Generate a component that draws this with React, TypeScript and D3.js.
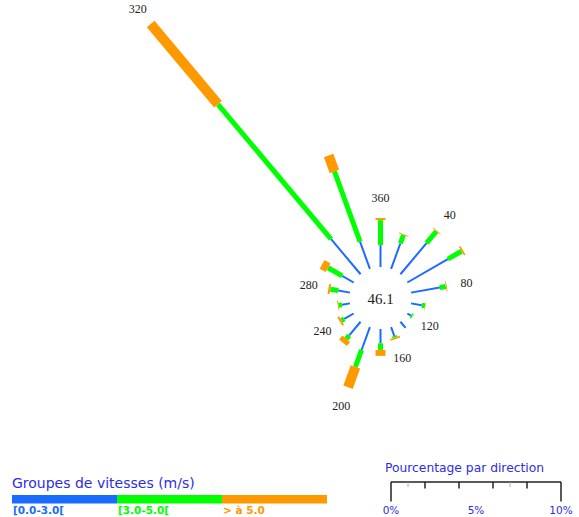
import React from "react";
import * as d3 from "d3";

const WIDTH = 579;
const HEIGHT = 517;

// Wind directions (degrees, clockwise from north)
const directions = [0, 20, 40, 60, 80, 100, 120, 140, 160, 180, 200, 220, 240, 260, 280, 300, 320, 340];
// Percentage of observations per direction, per speed group
const pctLow = [1.29, 1.59, 2.39, 2.75, 1.72, 0.64, 0.24, 0.47, 0.55, 0.84, 1.43, 1.04, 0.64, 0.48, 0.7, 0.78, 2.7, 1.7];
const pctMid = [1.47, 0.53, 0.9, 0.93, 0.36, 0.2, 0.1, 0.0, 0.1, 0.39, 1.06, 0.27, 0.18, 0.2, 0.47, 0.96, 10.35, 4.4];
const pctHigh = [0.12, 0.05, 0.05, 0.1, 0.05, 0.02, 0.0, 0.0, 0.1, 0.35, 1.27, 0.3, 0.12, 0.05, 0.12, 0.4, 6.16, 1.0];

const speedGroups = ["[0.0-3.0[", "[3.0-5.0[", "> à 5.0"];
const speedColors = ["#1a6bff", "#00ff00", "#ff9900"];
const speedWidths = [2, 5, 10];

const calmValue = "46.1";
const labelDirections = [0, 40, 80, 120, 160, 200, 240, 280, 320];
const labelTexts = ["360", "40", "80", "120", "160", "200", "240", "280", "320"];

const scaleMajorTicks = [0, 2, 4, 6, 8, 10];
const scaleMinorTicks = [1, 7];
const scaleTickLabels = [0, 5, 10];

const legendTitle = "Groupes de vitesses (m/s)";
const scaleTitle = "Pourcentage par direction";

export default function App() {
  const cx = 380.5;
  const cy = 298;
  const inner = 31;
  const r = d3.scaleLinear().domain([0, 10]).range([0, 170]);

  const series = [pctLow, pctMid, pctHigh];
  const stacks = directions.map((dir, i) => {
    let acc = 0;
    return series.map((s, k) => {
      const start = acc;
      acc += s[i];
      return { dir, k, start, end: acc };
    });
  });
  const totals = directions.map((_, i) => pctLow[i] + pctMid[i] + pctHigh[i]);

  const pt = (dir: number, rad: number) => {
    const a = (dir * Math.PI) / 180;
    return [cx + rad * Math.sin(a), cy - rad * Math.cos(a)];
  };

  const legendX = d3.scaleBand<number>().domain([0, 1, 2]).range([12, 327]).padding(0);
  const scaleX = d3.scaleLinear().domain([0, 10]).range([391, 561]);

  const blue = "#2d2de6";

  return (
    <svg
      width={WIDTH}
      height={HEIGHT}
      style={{ position: "absolute", left: 0, top: 0, background: "#fff" }}
    >
      {/* spokes */}
      <g>
        {stacks.map((segs, i) =>
          segs
            .filter((s) => s.end > s.start)
            .map((s) => {
              const [x1, y1] = pt(s.dir, inner + r(s.start));
              const [x2, y2] = pt(s.dir, inner + r(s.end));
              return (
                <line
                  key={`${i}-${s.k}`}
                  x1={x1}
                  y1={y1}
                  x2={x2}
                  y2={y2}
                  stroke={speedColors[s.k]}
                  strokeWidth={speedWidths[s.k]}
                  strokeLinecap="butt"
                />
              );
            })
        )}
      </g>
      {/* direction labels */}
      <g fontFamily="'Liberation Serif', 'DejaVu Serif', serif" fontSize={12} fill="#222">
        {labelDirections.map((dir, j) => {
          const idx = directions.indexOf(dir);
          const [x, y] = pt(dir, inner + r(totals[idx]) + 20);
          return (
            <text key={dir} x={x} y={y} textAnchor="middle" dominantBaseline="central">
              {labelTexts[j]}
            </text>
          );
        })}
      </g>
      {/* calm */}
      <text
        x={cx}
        y={cy + 1}
        textAnchor="middle"
        dominantBaseline="central"
        fontFamily="'Liberation Serif', 'DejaVu Serif', serif"
        fontSize={15}
        fill="#222"
      >
        {calmValue}
      </text>

      {/* speed legend */}
      <text x={12} y={488} fontFamily="'DejaVu Sans', sans-serif" fontSize={14} fill={blue}>
        {legendTitle}
      </text>
      {speedGroups.map((g, k) => (
        <g key={g}>
          <rect x={legendX(k)} y={495} width={legendX.bandwidth()} height={8.5} fill={speedColors[k]} />
          <text
            x={(legendX(k) as number) + 1}
            y={514}
            fontFamily="'DejaVu Sans', sans-serif"
            fontSize={10.5}
            fontWeight="bold"
            fill={speedColors[k]}
          >
            {g}
          </text>
        </g>
      ))}

      {/* percentage scale */}
      <text x={385} y={472} fontFamily="'DejaVu Sans', sans-serif" fontSize={12.3} fill={blue}>
        {scaleTitle}
      </text>
      <line x1={scaleX(0)} x2={scaleX(10)} y1={482} y2={482} stroke="#222" strokeWidth={1.5} />
      {scaleMajorTicks.map((t) => (
        <line
          key={t}
          x1={scaleX(t)}
          x2={scaleX(t)}
          y1={482}
          y2={t === 0 || t === 10 ? 501.5 : 488.5}
          stroke="#222"
          strokeWidth={1.5}
        />
      ))}
      {scaleMinorTicks.map((t) => (
        <line key={t} x1={scaleX(t)} x2={scaleX(t)} y1={482} y2={487} stroke="#aaa" strokeWidth={1} />
      ))}
      {scaleTickLabels.map((t) => (
        <text
          key={t}
          x={scaleX(t)}
          y={514}
          textAnchor="middle"
          fontFamily="'DejaVu Sans', sans-serif"
          fontSize={10.5}
          fill={blue}
        >
          {`${t}%`}
        </text>
      ))}
    </svg>
  );
}
